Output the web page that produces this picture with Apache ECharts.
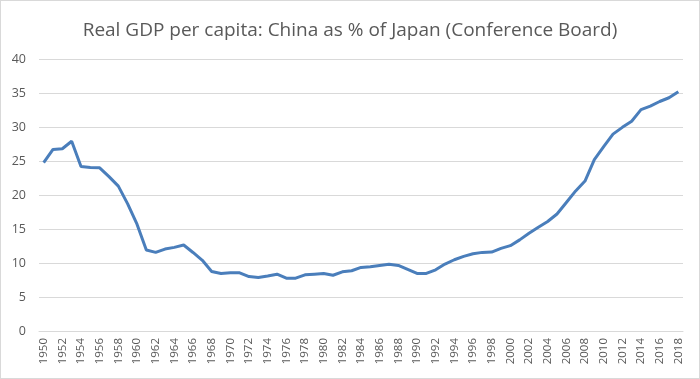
<!DOCTYPE html>
<html>
<head>
<meta charset="utf-8">
<script src="https://cdn.jsdelivr.net/npm/echarts@6/dist/echarts.min.js"></script>
<style>
html,body{margin:0;padding:0;background:#fff;}
#wrap{position:absolute;left:0;top:0;width:698px;height:377px;border:1px solid #d9d9d9;}
#c{width:698px;height:377px;}
</style>
</head>
<body>
<div id="wrap"><div id="c"></div></div>
<script>
const years = [];
for (let y = 1950; y <= 2018; y++) years.push(String(y));
const chinaPctJapan = [
  24.75, 26.7, 26.8, 27.9, 24.2, 24.05, 24.0, 22.7, 21.3, 18.7,
  15.7, 11.9, 11.56, 12.05, 12.3, 12.65, 11.55, 10.4, 8.76, 8.46,
  8.56, 8.56, 8.0, 7.87, 8.1, 8.36, 7.77, 7.77, 8.26, 8.36,
  8.46, 8.2, 8.7, 8.86, 9.35, 9.45, 9.64, 9.8, 9.64, 9.05,
  8.46, 8.46, 9.0, 9.84, 10.48, 10.97, 11.35, 11.56, 11.6, 12.15,
  12.55, 13.4, 14.36, 15.25, 16.1, 17.2, 18.9, 20.6, 22.05, 25.2,
  27.1, 28.95, 29.95, 30.85, 32.55, 33.06, 33.75, 34.3, 35.2
];
const yTicks = [0, 5, 10, 15, 20, 25, 30, 35, 40];
const titleText = 'Real GDP per capita: China as % of Japan (Conference Board)';

const chart = echarts.init(document.getElementById('c'), null, {renderer: 'canvas'});
chart.setOption({
  animation: false,
  backgroundColor: '#fff',
  title: {
    text: titleText,
    left: 'center',
    top: 15,
    textStyle: {fontFamily: 'Open Sans', fontSize: 19, fontWeight: 'normal', color: '#595959'}
  },
  grid: {left: 38, right: 16, top: 58, bottom: 47},
  xAxis: {
    type: 'category',
    data: years,
    boundaryGap: true,
    axisLine: {lineStyle: {color: '#d9d9d9', width: 1}},
    axisTick: {show: false},
    axisLabel: {rotate: 90, interval: 1, margin: 7, fontFamily: 'Open Sans', fontSize: 11.5, color: '#595959'}
  },
  yAxis: {
    type: 'value',
    min: yTicks[0],
    max: yTicks[yTicks.length - 1],
    interval: 5,
    axisLine: {show: false},
    axisTick: {show: false},
    splitLine: {lineStyle: {color: '#d9d9d9', width: 1}},
    axisLabel: {margin: 13, fontFamily: 'Open Sans', fontSize: 12.5, color: '#595959'}
  },
  series: [{
    type: 'line',
    data: chinaPctJapan,
    symbol: 'none',
    lineStyle: {color: '#4a7ebb', width: 3},
    itemStyle: {color: '#4a7ebb'}
  }]
});
</script>
</body>
</html>
